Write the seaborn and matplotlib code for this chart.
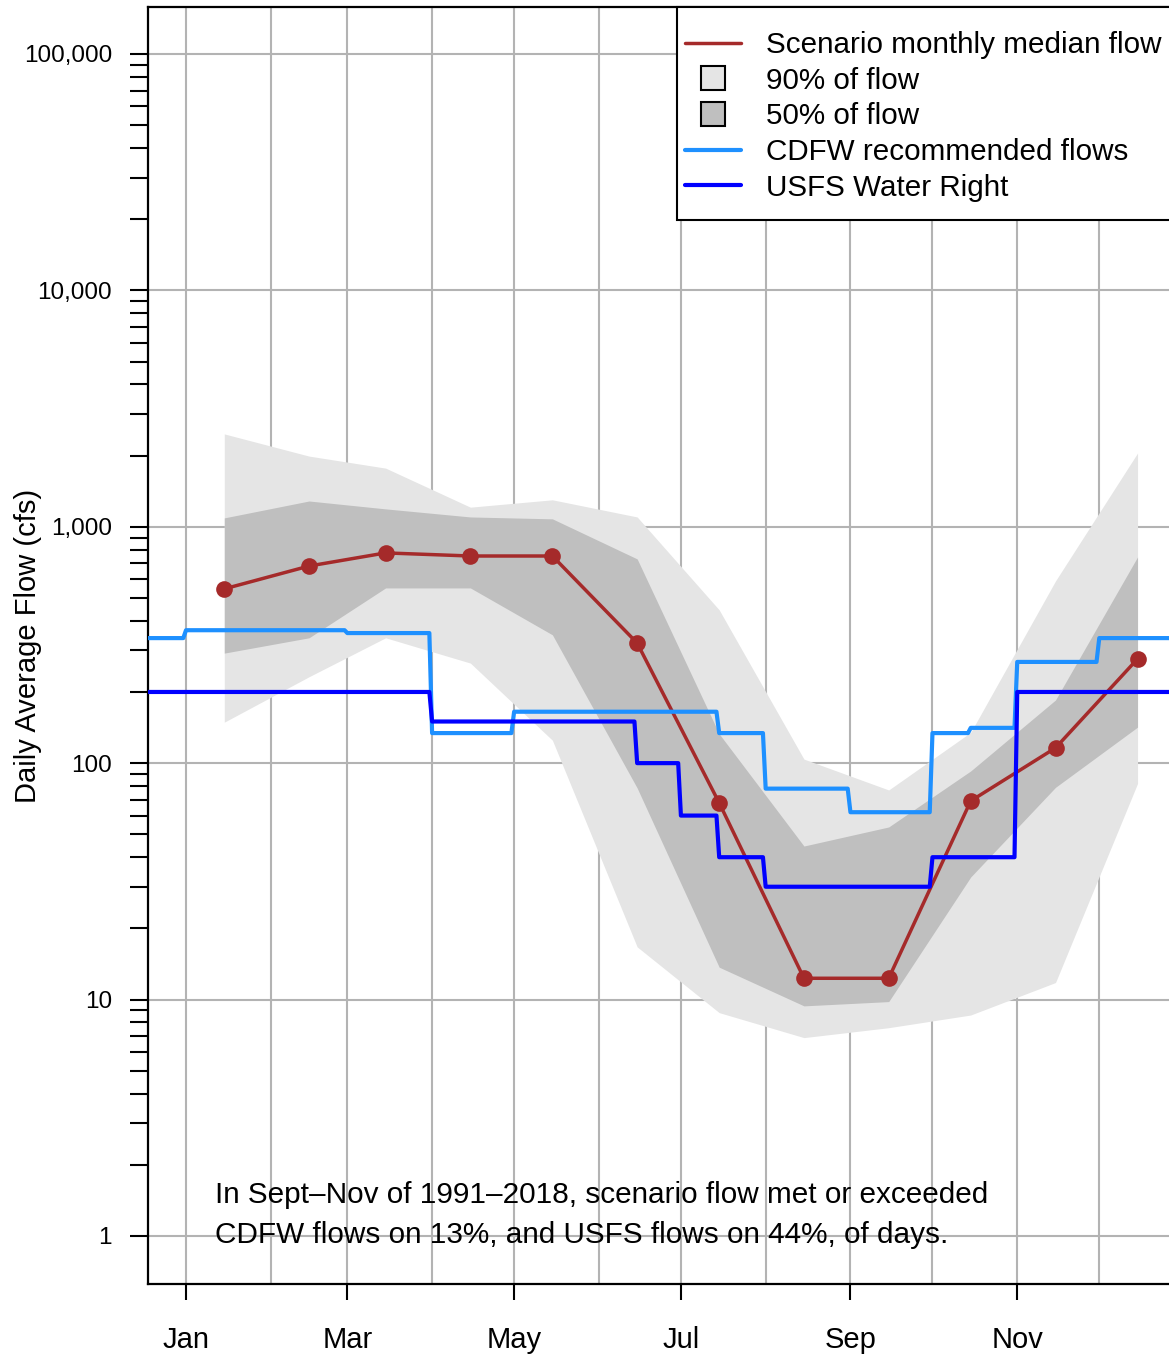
import numpy as np
import pandas as pd
import seaborn as sns
import matplotlib
matplotlib.use("Agg")
import matplotlib.pyplot as plt
from matplotlib.lines import Line2D
from matplotlib.patches import Rectangle
from matplotlib.ticker import FixedLocator, FuncFormatter, NullFormatter

# ---------------- data ----------------
MONTH_STARTS = [0, 31, 59, 90, 120, 151, 181, 212, 243, 273, 304, 334]
MONTH_LABELS = ["Jan", "Mar", "May", "Jul", "Sep", "Nov"]
LABELED_MONTH_STARTS = [0, 59, 120, 181, 243, 304]

MID_DAYS = [14, 45, 73, 104, 134, 165, 195, 226, 257, 287, 318, 348]
MEDIAN = [546, 682, 775, 752, 752, 322, 67.9, 12.3, 12.3, 69.2, 116, 276]
Q95 = [2470, 1990, 1770, 1210, 1300, 1100, 445, 104, 77, 135, 590, 2050]
Q75 = [1090, 1285, 1190, 1100, 1080, 731, 133, 44.6, 53.7, 92.7, 185, 745]
Q25 = [292, 339, 551, 551, 349, 78.5, 13.7, 9.4, 9.8, 33, 79, 142]
Q05 = [149, 232, 339, 265, 125, 16.7, 8.8, 6.9, 7.6, 8.6, 11.8, 82]

CDFW_START_DAYS = [-14, 0, 59, 90, 120, 195, 212, 243, 273, 287, 304, 334]
CDFW_VALUES = [338, 365, 355, 134, 165, 134, 78, 62, 134, 141, 268, 338]

USFS_START_DAYS = [-14, 90, 165, 181, 195, 212, 273, 304]
USFS_VALUES = [200, 150, 100, 60, 40, 30, 40, 200]

Y_TICKS = [1, 10, 100, 1000, 10000, 100000]
Y_MINOR_TICKS = [m * d for d in [1, 10, 100, 1000, 10000] for m in range(2, 10)]

LEGEND_LABELS = ["Scenario monthly median flow", "90% of flow", "50% of flow",
                 "CDFW recommended flows", "USFS Water Right"]
NOTE_LINE1 = "In Sept\u2013Nov of 1991\u20132018, scenario flow met or exceeded"
NOTE_LINE2 = "CDFW flows on 13%, and USFS flows on 44%, of days."

# ---------------- styling ----------------
RED = "#A52A2A"
LIGHTBLUE = "#1E90FF"
BLUE = "#0000FF"
LIGHTGRAY = "#E5E5E5"
DARKGRAY = "#BFBFBF"
GRIDGRAY = "#B3B3B3"

sns.set_style("ticks")
plt.rcParams["font.family"] = ["Liberation Sans", "DejaVu Sans"]
plt.rcParams["text.color"] = "black"
plt.rcParams["axes.labelcolor"] = "black"
plt.rcParams["xtick.color"] = "black"
plt.rcParams["ytick.color"] = "black"
plt.rcParams["xtick.labelcolor"] = "black"
plt.rcParams["ytick.labelcolor"] = "black"

W, H = 1169, 1357
fig = plt.figure(figsize=(W / 100, H / 100), dpi=100)
ax = fig.add_axes([148 / W, (H - 1284) / H, (1175 - 148) / W, (1284 - 7) / H])

# daily step series
days = np.arange(-14, 365)
cdfw_daily = np.array(CDFW_VALUES)[np.searchsorted(CDFW_START_DAYS, days, side="right") - 1]
usfs_daily = np.array(USFS_VALUES)[np.searchsorted(USFS_START_DAYS, days, side="right") - 1]
steps = pd.DataFrame({"day": days, "cdfw": cdfw_daily, "usfs": usfs_daily})
med = pd.DataFrame({"day": MID_DAYS, "median": MEDIAN})

ax.set_yscale("log")

ax.fill_between(MID_DAYS, Q05, Q95, color=LIGHTGRAY, lw=0, zorder=1)
ax.fill_between(MID_DAYS, Q25, Q75, color=DARKGRAY, lw=0, zorder=1.1)

sns.lineplot(data=med, x="day", y="median", ax=ax, color=RED, lw=2.5,
             marker="o", markersize=12, markeredgewidth=0, zorder=3)
sns.lineplot(data=steps, x="day", y="cdfw", ax=ax, color=LIGHTBLUE, lw=3, zorder=4)
sns.lineplot(data=steps, x="day", y="usfs", ax=ax, color=BLUE, lw=3, zorder=5)

ax.set_xlim(-13.9, 361.7)
ax.set_ylim(0.626, 158000)

# x axis
ax.xaxis.set_major_locator(FixedLocator(LABELED_MONTH_STARTS))
ax.xaxis.set_minor_locator(FixedLocator(MONTH_STARTS))
ax.set_xticklabels(MONTH_LABELS)
ax.tick_params(axis="x", which="major", length=11.5, width=1.5, labelsize=21,
               pad=19, direction="out", color="black", labelcolor="black", bottom=True)
ax.tick_params(axis="x", which="minor", length=0, bottom=True)

# y axis
ax.yaxis.set_major_locator(FixedLocator(Y_TICKS))
ax.yaxis.set_major_formatter(FuncFormatter(lambda v, p: f"{v:,.0f}"))
ax.yaxis.set_minor_locator(FixedLocator(Y_MINOR_TICKS))
ax.yaxis.set_minor_formatter(NullFormatter())
ax.tick_params(axis="y", which="both", length=13, width=1.5, labelsize=17.5,
               pad=13, direction="out", color="black", labelcolor="black", left=True)

ax.set_axisbelow(True)
ax.grid(True, which="both", axis="x", color=GRIDGRAY, lw=1.5, zorder=0)
ax.grid(True, which="major", axis="y", color=GRIDGRAY, lw=1.5, zorder=0)

for s in ax.spines.values():
    s.set_linewidth(1.6)
    s.set_color("black")
    s.set_visible(True)

ax.set_xlabel("")
ax.set_ylabel("Daily Average Flow (cfs)", fontsize=21, color="black")
ax.yaxis.set_label_coords(-0.103, 0.5)

# annotation
fig.text(215 / W, 1 - 1203 / H, NOTE_LINE1, fontsize=21.4, ha="left", va="baseline", color="black")
fig.text(215 / W, 1 - 1243 / H, NOTE_LINE2, fontsize=21.4, ha="left", va="baseline", color="black")

# legend box
box = Rectangle((677 / W, 1 - 220 / H), (1200 - 677) / W, 213 / H,
                transform=fig.transFigure, facecolor="white", edgecolor="black",
                lw=1.5, zorder=5)
fig.add_artist(box)
handles = [
    Line2D([], [], color=RED, lw=2.5),
    Line2D([], [], ls="none", marker="s", ms=17.5, mfc=LIGHTGRAY, mec="black", mew=1.5),
    Line2D([], [], ls="none", marker="s", ms=17.5, mfc=DARKGRAY, mec="black", mew=1.5),
    Line2D([], [], color=LIGHTBLUE, lw=3),
    Line2D([], [], color=BLUE, lw=3),
]
leg = fig.legend(handles, LEGEND_LABELS, loc="upper left",
                 bbox_to_anchor=(685 / W, 1 - 31 / H), bbox_transform=fig.transFigure,
                 frameon=False, fontsize=21.3, borderpad=0, borderaxespad=0,
                 handlelength=1.88, handletextpad=0.85, labelspacing=0.26)
leg.set_zorder(6)
for t in leg.get_texts():
    t.set_color("black")

fig.savefig("out.png", dpi=100)
